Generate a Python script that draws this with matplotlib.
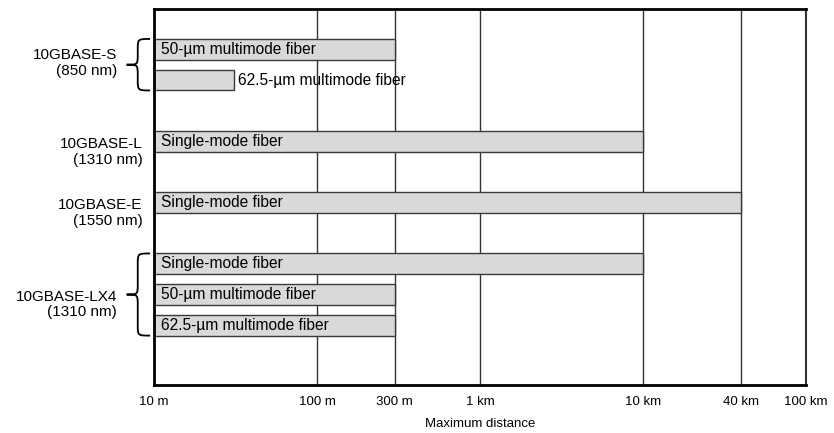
import numpy as np
import matplotlib
matplotlib.use('Agg')
import matplotlib.pyplot as plt
from matplotlib.path import Path
from matplotlib.patches import PathPatch
import matplotlib.transforms as mtransforms

plt.rcParams['font.family'] = ['Liberation Sans', 'DejaVu Sans']

# Data

standards = ['10GBASE-S\n(850 nm)', '10GBASE-L\n(1310 nm)',
             '10GBASE-E\n(1550 nm)', '10GBASE-LX4\n(1310 nm)']
fibers = [
    ['50-µm multimode fiber', '62.5-µm multimode fiber'],
    ['Single-mode fiber'],
    ['Single-mode fiber'],
    ['Single-mode fiber', '50-µm multimode fiber', '62.5-µm multimode fiber'],
]
distances = [
    [300, 31],
    [10000],
    [40000],
    [10000, 300, 300],
]

tick_vals = [10, 100, 300, 1000, 10000, 40000, 100000]
tick_labels = ['10 m', '100 m', '300 m', '1 km', '10 km', '40 km', '100 km']

x_min = 10
x_max = 100000

# Layout: one row per fiber, one blank row between standards

rows = []
slot = 0
for g, names in enumerate(fibers):
    group_rows = []
    for name, dist in zip(names, distances[g]):
        group_rows.append((slot, name, dist))
        slot += 1
    rows.append(group_rows)
    slot += 1
last_row = slot - 2


def brace(ax, y0, y1, x_right=-0.006, x_mid=-0.025, x_tip=-0.042, r=0.35):
    trans = mtransforms.blended_transform_factory(ax.transAxes, ax.transData)
    ym = (y0 + y1) / 2
    verts = [
        (x_right, y0),
        (x_mid, y0), (x_mid, y0), (x_mid, y0 + r),
        (x_mid, ym - r),
        (x_mid, ym), (x_mid, ym), (x_tip, ym),
        (x_mid, ym), (x_mid, ym), (x_mid, ym + r),
        (x_mid, y1 - r),
        (x_mid, y1), (x_mid, y1), (x_right, y1),
    ]
    codes = [Path.MOVETO,
             Path.CURVE4, Path.CURVE4, Path.CURVE4,
             Path.LINETO,
             Path.CURVE4, Path.CURVE4, Path.CURVE4,
             Path.CURVE4, Path.CURVE4, Path.CURVE4,
             Path.LINETO,
             Path.CURVE4, Path.CURVE4, Path.CURVE4]
    patch = PathPatch(Path(verts, codes), transform=trans, facecolor='none',
                      edgecolor='black', lw=1.3, clip_on=False)
    ax.add_patch(patch)


fig = plt.figure(figsize=(8.34, 4.33), dpi=100)
ax = fig.add_axes([0.1847, 0.111, 0.7818, 0.8684])

######################### GRID #########################

for xv in tick_vals:
    ax.axvline(xv, color='#333333', lw=1, zorder=1)

######################### BARS #########################

bar_h = 0.68
for g, group_rows in enumerate(rows):
    for y, name, dist in group_rows:
        ax.barh(y, dist - x_min, left=x_min, height=bar_h, color='#d9d9d9',
                edgecolor='#3a3a3a', lw=1, zorder=2)
        # label inside bar, or after it if the bar is too short
        if dist < 100:
            ax.annotate(name, xy=(dist, y), xytext=(3, 0), textcoords='offset points',
                        ha='left', va='center', fontsize=11.2, zorder=3)
        else:
            ax.annotate(name, xy=(x_min, y), xytext=(5, 0), textcoords='offset points',
                        ha='left', va='center', fontsize=11.2, zorder=3)

######################### LEFT LABELS #########################

trans = mtransforms.blended_transform_factory(ax.transAxes, ax.transData)
for g, group_rows in enumerate(rows):
    ys = [r[0] for r in group_rows]
    if len(ys) > 1:
        y0, y1 = ys[0] - bar_h / 2, ys[-1] + bar_h / 2
        brace(ax, y0, y1)
        ym = (y0 + y1) / 2
        if len(ys) == 2:
            ax.text(-0.057, ym - 0.05, standards[g], transform=trans, ha='right',
                    va='center', fontsize=11, linespacing=1.15)
        else:
            ax.text(-0.057, ym + 0.33, standards[g], transform=trans, ha='right',
                    va='center', fontsize=11, linespacing=1.15)
    else:
        ax.text(-0.018, ys[0] + 0.34, standards[g], transform=trans, ha='right',
                va='center', fontsize=11, linespacing=1.15)

######################### AXES #########################

ax.set_xscale('log')
ax.set_xlim(x_min, x_max)
ax.set_ylim(last_row + 1.95, -1.32)
ax.set_xticks(tick_vals)
ax.set_xticklabels(tick_labels, fontsize=9.5)
ax.xaxis.set_minor_locator(matplotlib.ticker.NullLocator())
ax.tick_params(axis='x', length=0, pad=8)
ax.set_yticks([])
ax.set_xlabel('Maximum distance', fontsize=9.5, labelpad=7)

for side in ['top', 'left', 'bottom']:
    ax.spines[side].set_linewidth(2)
    ax.spines[side].set_color('black')
ax.spines['right'].set_linewidth(1.5)
ax.spines['right'].set_color('#333333')

fig.savefig('out.png', dpi=100)
